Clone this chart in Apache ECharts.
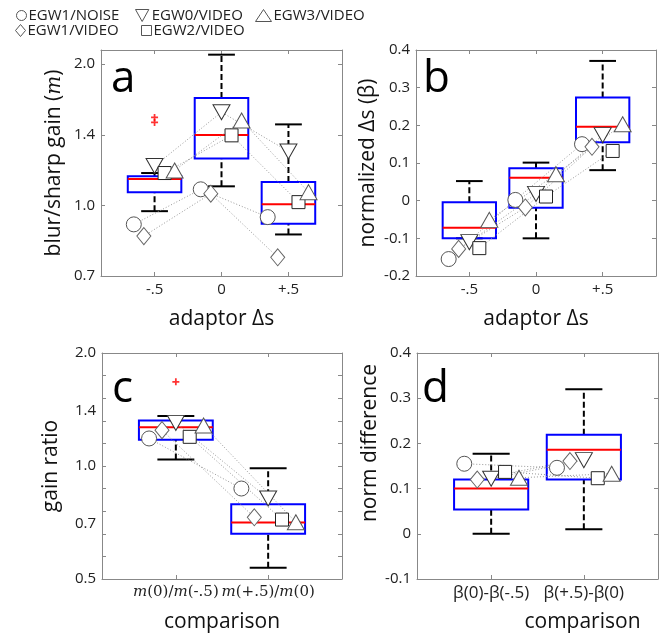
<!DOCTYPE html>
<html>
<head>
<meta charset="utf-8">
<script src="https://cdn.jsdelivr.net/npm/echarts@6/dist/echarts.min.js"></script>
<style>
html, body { margin: 0; padding: 0; background: #fff; }
#chart { width: 670px; height: 635px; }
</style>
</head>
<body>
<div id="chart"></div>
<script>
// subjects, in drawing order (circle, diamond, down-triangle, square, up-triangle)
const subjects = ['EGW1/NOISE', 'EGW1/VIDEO', 'EGW0/VIDEO', 'EGW2/VIDEO', 'EGW3/VIDEO'];

const adaptorLevels = [-0.5, 0, 0.5];
const adaptorLabels = ['-.5', '0', '+.5'];
const comparisonLevels = [1, 2];
const gainRatioLabels = ['m(0)/m(-.5)', 'm(+.5)/m(0)'];
const normDiffLabels = ['β(0)-β(-.5)', 'β(+.5)-β(0)'];

// a: blur/sharp gain, rows = subjects, columns = adaptor levels
const gainBySubject = [
  [0.911, 1.082, 0.944],
  [0.860, 1.059, 0.775],
  [1.213, 1.580, 1.303],
  [1.172, 1.410, 1.016],
  [1.187, 1.517, 1.067]
];
// boxes: [lower whisker, q1, median, q3, upper whisker]
const gainBoxes = [
  [0.972, 1.067, 1.138, 1.154, 1.172],
  [1.098, 1.259, 1.412, 1.693, 2.095],
  [0.867, 0.914, 1.005, 1.121, 1.488]
];
const gainOutliers = [[-0.5, 1.540], [-0.5, 1.502]];

// b: normalized delta s (beta)
const betaBySubject = [
  [-0.155, 0.002, 0.150],
  [-0.128, -0.018, 0.143],
  [-0.110, 0.018, 0.174],
  [-0.126, 0.011, 0.132],
  [-0.051, 0.070, 0.203]
];
const betaBoxes = [
  [-0.100, -0.100, -0.072, -0.004, 0.052],
  [-0.100, -0.019, 0.061, 0.086, 0.101],
  [0.081, 0.155, 0.196, 0.274, 0.371]
];

// c: gain ratio
const ratioBySubject = [
  [1.184, 0.871],
  [1.246, 0.730],
  [1.303, 0.819],
  [1.196, 0.720],
  [1.282, 0.708]
];
const ratioBoxes = [
  [1.041, 1.174, 1.268, 1.322, 1.358],
  [0.536, 0.660, 0.707, 0.791, 0.987]
];
const ratioOutliers = [[1, 1.676]];

// d: norm difference
const diffBySubject = [
  [0.155, 0.146],
  [0.120, 0.161],
  [0.122, 0.163],
  [0.137, 0.123],
  [0.124, 0.133]
];
const diffBoxes = [
  [0.000, 0.054, 0.100, 0.120, 0.177],
  [0.010, 0.120, 0.186, 0.219, 0.320]
];

const FONT = 'Open Sans';
const SERIF = 'DejaVu Serif';
const TRI_DOWN = 'path://M0,0L10,0L5,9Z';
const PLUS = 'path://M3,0H5V3H8V5H5V8H3V5H0V3H3Z';
const markerStyles = [
  { symbol: 'circle', size: 15, color: '#555' },
  { symbol: 'diamond', size: [14, 17], color: '#666' },
  { symbol: TRI_DOWN, size: [17, 15], color: '#333' },
  { symbol: 'rect', size: 13, color: '#222' },
  { symbol: 'triangle', size: [17, 15], color: '#555' }
];
const legendIcons = [
  { icon: 'circle', w: 10, h: 10, left: 16, top: 8 },
  { icon: 'diamond', w: 10, h: 12, left: 15, top: 23 },
  { icon: TRI_DOWN, w: 15, h: 12, left: 135, top: 8 },
  { icon: 'rect', w: 10, h: 10, left: 141, top: 23 },
  { icon: 'triangle', w: 16, h: 12, left: 255, top: 8 }
];
const jitterAB = [-0.155, -0.08, 0, 0.075, 0.15];
const jitterCD = [-0.29, -0.15, 0, 0.15, 0.3];

const log2 = v => Math.log2(v);
const ident = v => v;
const pickLabel = (ticks, labels) => v => {
  const k = ticks.findIndex(t => Math.abs(t - v) < 1e-6);
  return k < 0 ? '' : labels[k];
};
const italicM = s => s.replace(/m/g, '{i|m}');

function boxRenderer(halfBox, halfCap) {
  return function (params, api) {
    const x = api.value(0);
    const lo = api.value(1), q1 = api.value(2), med = api.value(3), q3 = api.value(4), hi = api.value(5);
    const c = (dx, y) => api.coord([x + dx, y]);
    const seg = (a, b, style) => ({ type: 'line', shape: { x1: a[0], y1: a[1], x2: b[0], y2: b[1] }, style: style });
    const solid = { stroke: '#000', lineWidth: 2 };
    const dash = { stroke: '#000', lineWidth: 2, lineDash: [6, 3] };
    const tl = c(-halfBox, q3), br = c(halfBox, q1);
    return {
      type: 'group',
      children: [
        seg(c(0, q3), c(0, hi), dash),
        seg(c(0, lo), c(0, q1), dash),
        seg(c(-halfCap, hi), c(halfCap, hi), solid),
        seg(c(-halfCap, lo), c(halfCap, lo), solid),
        { type: 'rect', shape: { x: tl[0], y: tl[1], width: br[0] - tl[0], height: br[1] - tl[1] },
          style: { fill: 'none', stroke: '#0000ff', lineWidth: 2 } },
        seg(c(-halfBox, med), c(halfBox, med), { stroke: '#ff0000', lineWidth: 2 })
      ]
    };
  };
}

const panels = [
  { grid: { left: 101, top: 50, width: 241, height: 226 }, xMin: -0.9, xMax: 0.9,
    xs: adaptorLevels, xLabels: adaptorLabels, xName: 'adaptor Δs', xNamePad: 0, xFont: 15,
    yMin: -0.5, yMax: 1.1, yTf: log2, yTicks: [-0.5, 0, 0.5, 1], yLabels: [-0.5, 0, 0.5, 1],
    yFmt: v => Math.pow(2, v).toFixed(1), yName: 'blur/sharp gain ({i|m})', yGap: 36, yNamePad: 0,
    points: gainBySubject, boxes: gainBoxes, outliers: gainOutliers, jitter: jitterAB, hb: 0.2, hc: 0.1 },
  { grid: { left: 416, top: 50, width: 240, height: 226 }, xMin: -0.9, xMax: 0.9,
    xs: adaptorLevels, xLabels: adaptorLabels, xName: 'adaptor Δs', xNamePad: 0, xFont: 15,
    yMin: -0.2, yMax: 0.4, yTf: ident, interval: 0.1,
    yFmt: v => Math.abs(v) < 1e-9 ? '0' : v.toFixed(1), yName: 'normalized Δs (β)', yGap: 37, yNamePad: 0,
    points: betaBySubject, boxes: betaBoxes, outliers: [], jitter: jitterAB, hb: 0.2, hc: 0.1 },
  { grid: { left: 102, top: 353, width: 240, height: 226 }, xMin: 0.2, xMax: 2.8,
    xs: comparisonLevels, xLabels: gainRatioLabels.map(italicM), xSerif: true,
    xName: 'comparison', xNamePad: 0, xFont: 15,
    yMin: -1, yMax: 1, yTf: log2, yTicks: [-1, -0.8, -0.6, -0.4, -0.2, 0, 0.2, 0.4, 0.6, 0.8, 1],
    yLabels: [-1, log2(0.7), 0, log2(1.4), 1],
    yFmt: v => Math.pow(2, v).toFixed(1), yName: 'gain ratio', yGap: 40, yNamePad: 0,
    points: ratioBySubject, boxes: ratioBoxes, outliers: ratioOutliers, jitter: jitterCD, hb: 0.4, hc: 0.2 },
  { grid: { left: 417, top: 353, width: 241, height: 226 }, xMin: 0.2, xMax: 2.8,
    xs: comparisonLevels, xLabels: normDiffLabels, xName: 'comparison', xNamePad: 90, xFont: 17,
    yMin: -0.1, yMax: 0.4, yTf: ident, interval: 0.1,
    yFmt: v => Math.abs(v) < 1e-9 ? '0' : v.toFixed(1), yName: 'norm difference', yGap: 36, yNamePad: 46,
    points: diffBySubject, boxes: diffBoxes, outliers: [], jitter: jitterCD, hb: 0.4, hc: 0.2 }
];

const axisColor = '#888';
const tickStyle = { lineStyle: { color: axisColor, width: 1 } };
const grids = [], xAxes = [], yAxes = [], series = [];
const topX = [], rightY = [];

panels.forEach((p, i) => {
  grids.push(p.grid);
  const xFmt = pickLabel(p.xs, p.xLabels);
  xAxes.push({
    gridIndex: i, type: 'value', min: p.xMin, max: p.xMax, position: 'bottom',
    axisLine: { onZero: false, lineStyle: { color: axisColor } },
    axisTick: Object.assign({ inside: true, length: 4, customValues: p.xs }, tickStyle),
    axisLabel: {
      customValues: p.xs, formatter: xFmt, color: '#222', margin: 6,
      showMinLabel: true, showMaxLabel: true, hideOverlap: false,
      fontFamily: p.xSerif ? SERIF : FONT, fontSize: p.xFont,
      rich: { i: { fontFamily: SERIF, fontStyle: 'italic', fontSize: 15, color: '#222' } }
    },
    splitLine: { show: false },
    name: p.xName, nameLocation: 'middle', nameGap: 33,
    nameTextStyle: { fontFamily: FONT, fontSize: 21, color: '#111', padding: [0, 0, 0, p.xNamePad] }
  });
  topX.push({
    gridIndex: i, type: 'value', min: p.xMin, max: p.xMax, position: 'top',
    axisLine: { onZero: false, lineStyle: { color: axisColor } },
    axisTick: Object.assign({ inside: true, length: 4, customValues: p.xs }, tickStyle),
    axisLabel: { show: false }, splitLine: { show: false }
  });
  const yTick = p.interval ? { inside: true, length: 4 } : { inside: true, length: 4, customValues: p.yTicks };
  const yLab = p.interval ? {} : { customValues: p.yLabels };
  yAxes.push({
    gridIndex: i, type: 'value', min: p.yMin, max: p.yMax, interval: p.interval, position: 'left',
    axisLine: { onZero: false, lineStyle: { color: axisColor } },
    axisTick: Object.assign(yTick, tickStyle),
    axisLabel: Object.assign({ formatter: p.yFmt, color: '#222', margin: 6, fontFamily: FONT, fontSize: 15 }, yLab),
    splitLine: { show: false },
    name: p.yName, nameLocation: 'middle', nameGap: p.yGap, nameRotate: 90,
    nameTextStyle: {
      fontFamily: FONT, fontSize: 21, color: '#111', padding: [0, 0, 0, p.yNamePad],
      rich: { i: { fontFamily: SERIF, fontStyle: 'italic', fontSize: 20, color: '#111' } }
    }
  });
  rightY.push({
    gridIndex: i, type: 'value', min: p.yMin, max: p.yMax, interval: p.interval, position: 'right',
    axisLine: { onZero: false, lineStyle: { color: axisColor } },
    axisTick: Object.assign(Object.assign({}, yTick), tickStyle),
    axisLabel: { show: false }, splitLine: { show: false }
  });

  // boxes
  series.push({
    type: 'custom', xAxisIndex: i, yAxisIndex: i, z: 2,
    renderItem: boxRenderer(p.hb, p.hc),
    encode: { x: 0, y: [1, 2, 3, 4, 5] },
    data: p.boxes.map((b, k) => [p.xs[k]].concat(b.map(p.yTf))),
    silent: true
  });
  if (p.outliers.length) {
    series.push({
      type: 'scatter', xAxisIndex: i, yAxisIndex: i, z: 3, symbol: PLUS, symbolSize: 7,
      itemStyle: { color: '#ff0000' },
      data: p.outliers.map(o => [o[0], p.yTf(o[1])])
    });
  }
  // dotted connectors per subject
  p.points.forEach((row, s) => {
    series.push({
      type: 'line', name: 'link ' + subjects[s], xAxisIndex: i, yAxisIndex: i, z: 3,
      symbol: 'none', silent: true,
      lineStyle: { color: '#999', width: 1, type: [1, 2] },
      data: row.map((v, k) => [p.xs[k] + p.jitter[s], p.yTf(v)])
    });
  });
  // markers per subject
  p.points.forEach((row, s) => {
    const m = markerStyles[s];
    series.push({
      type: 'scatter', name: subjects[s], xAxisIndex: i, yAxisIndex: i, z: 4,
      symbol: m.symbol, symbolSize: m.size,
      itemStyle: { color: '#fff', borderColor: m.color, borderWidth: 1, opacity: 1 },
      data: row.map((v, k) => [p.xs[k] + p.jitter[s], p.yTf(v)])
    });
  });
});

const legends = subjects.map((name, s) => {
  const l = legendIcons[s];
  return {
    left: l.left, top: l.top, padding: 0, itemWidth: l.w, itemHeight: l.h, selectedMode: false,
    data: [{ name: name, icon: l.icon }],
    itemStyle: { color: '#fff', borderColor: '#555', borderWidth: 1 },
    textStyle: { fontFamily: FONT, fontSize: 15, color: '#222', padding: [0, 0, 0, -3] }
  };
});

const letterStyle = { fontFamily: FONT, fontSize: 44, fontWeight: 'normal', color: '#000' };
const titles = [
  { text: 'a', left: 111, top: 57 },
  { text: 'b', left: 423, top: 57 },
  { text: 'c', left: 112, top: 367 },
  { text: 'd', left: 422, top: 367 }
].map(t => Object.assign({ padding: 0, textStyle: letterStyle }, t));

const chart = echarts.init(document.getElementById('chart'), null, { renderer: 'canvas' });
chart.setOption({
  animation: false,
  backgroundColor: '#fff',
  title: titles,
  legend: legends,
  grid: grids,
  xAxis: xAxes.concat(topX),
  yAxis: yAxes.concat(rightY),
  series: series
});
</script>
</body>
</html>
